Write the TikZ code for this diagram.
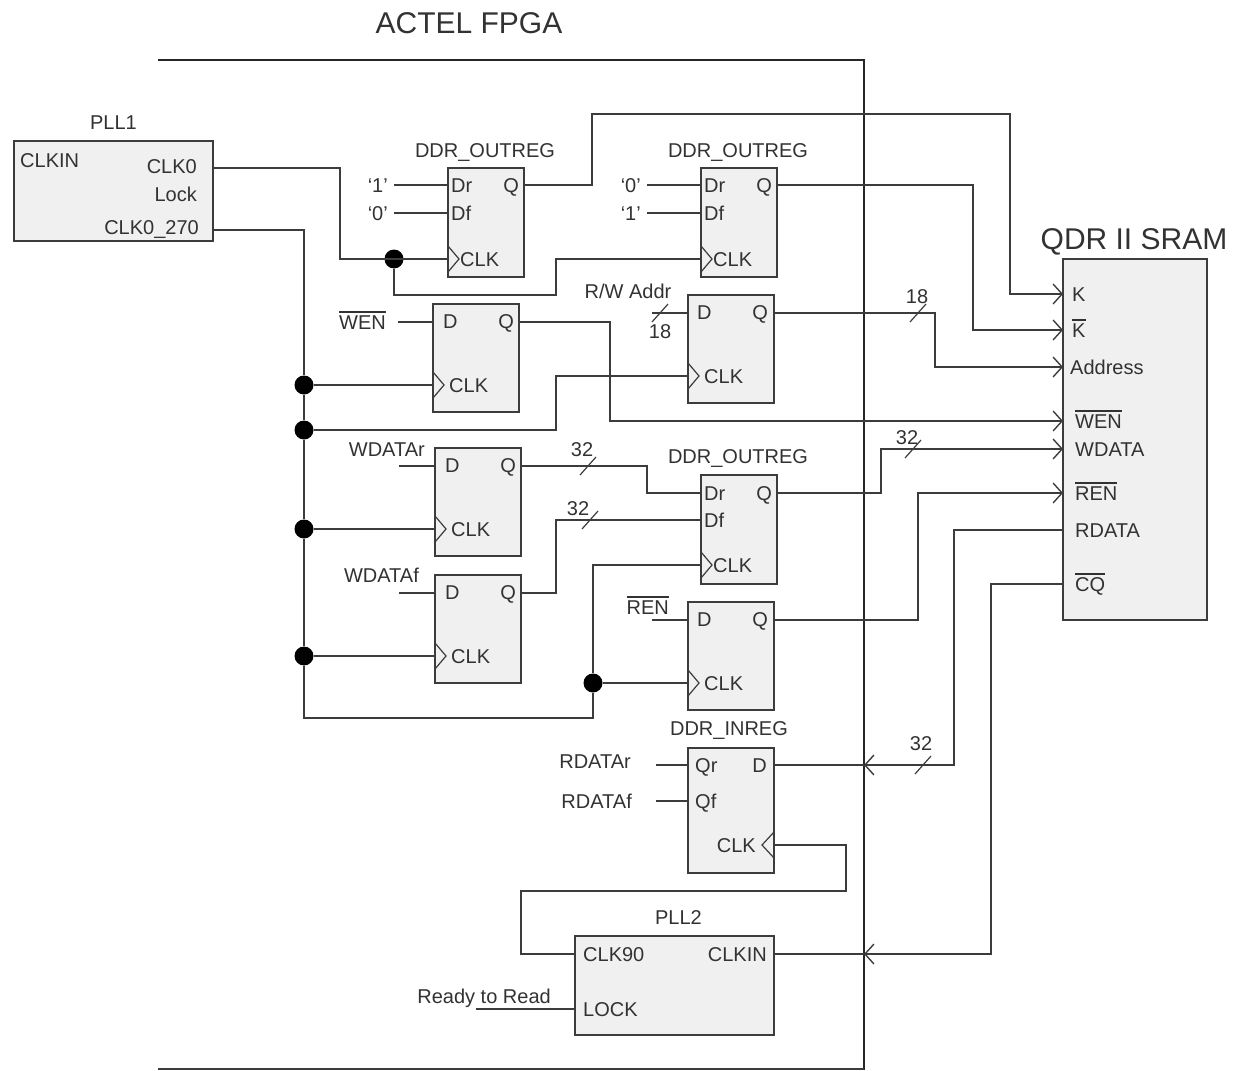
\documentclass[tikz,border=0pt]{standalone}
\usepackage{fontspec}
\setmainfont{Liberation Sans}
\usetikzlibrary{arrows.meta,positioning,calc}
\definecolor{wiregrey}{RGB}{60,60,60}
\definecolor{boxgrey}{RGB}{240,240,240}
\definecolor{textgrey}{RGB}{50,50,50}
\newcommand{\barred}[1]{\vbox{\hrule height 1.5pt\kern 2.5pt\hbox{#1}}}

\begin{document}
\begin{tikzpicture}[
    x=1pt, y=-1pt,
    font=\fontsize{20}{22}\selectfont, text=textgrey,
    regbox/.style={rectangle, draw=wiregrey, fill=boxgrey, line width=2pt,
        inner sep=0pt, outer sep=0pt, minimum width=86pt, minimum height=108pt},
    ddrbox/.style={regbox, minimum width=76pt, minimum height=109pt},
    pinleft/.style={anchor=west, inner sep=0pt, text height=14pt, text depth=0pt},
    pinright/.style={anchor=east, inner sep=0pt, text height=14pt, text depth=0pt},
    caption/.style={inner sep=0pt, text height=14pt, text depth=0pt},
    bigcaption/.style={inner sep=0pt, font=\fontsize{30}{32}\selectfont},
    wire/.style={draw=wiregrey, line width=1.7pt},
    sramarrow/.style={wire, -{Straight Barb[length=9pt,width=20pt,line width=1.4pt]}},
    junction/.style={circle, fill=black, inner sep=0pt, minimum size=19pt}
]
\useasboundingbox (0,0) rectangle (1238,1070);

% FPGA outline
\draw[line width=2.6pt, draw=black!85] (158,60) -- (864,60) -- (864,1070);
\draw[wire] (158,1069) -- (864,1069);
\node[bigcaption] (fpga) at (469,23) {ACTEL FPGA};

% blocks
\node[regbox, anchor=north west, minimum width=199pt, minimum height=100pt] (pll1) at (14,141) {};
\node[ddrbox, anchor=north west] (u1) at (448,168) {};
\node[ddrbox, right=177pt of u1] (u2) {};
\node[regbox, anchor=north west] (wenreg) at (433,304) {};
\node[regbox, anchor=north west] (addrreg) at (688,295) {};
\node[regbox, anchor=north west] (wdatar) at (435,448) {};
\node[regbox, below=19pt of wdatar] (wdataf) {};
\node[ddrbox, anchor=north west] (u3) at (701,475) {};
\node[regbox, anchor=north west] (renreg) at (688,602) {};
\node[regbox, anchor=north west, minimum height=125pt] (inreg) at (688,748) {};
\node[regbox, anchor=north west, minimum width=199pt, minimum height=99pt] (pll2) at (575,936) {};
\node[regbox, anchor=north west, minimum width=144pt, minimum height=361pt] (sram) at (1063,259) {};

% block captions
\node[caption, above=11pt of pll1] (pll1name) {PLL1};
\node[caption, above=10pt of u1, xshift=-1pt] (u1name) {DDR\_OUTREG};
\node[caption, above=10pt of u2, xshift=-1pt] (u2name) {DDR\_OUTREG};
\node[caption, above=11pt of u3, xshift=-1pt] (u3name) {DDR\_OUTREG};
\node[caption, above=12pt of inreg, xshift=-2pt] (inregname) {DDR\_INREG};
\node[caption, above=11pt of pll2, xshift=4pt] (pll2name) {PLL2};
\node[bigcaption, above=4pt of sram, xshift=-1pt] (sramname) {QDR II SRAM};

% pins
\node[pinleft] (pll1in) at (20,160) {CLKIN};
\node[pinright] (pll1clk) at (197,166) {CLK0};
\node[pinright] (pll1lock) at (197,194) {Lock};
\node[pinright] (pll1late) at (199,227) {CLK0\_270};
\node[pinleft] (u1dr) at (451,185) {Dr};
\node[pinleft] (u1df) at (451,213) {Df};
\node[pinright] (u1q) at (519,185) {Q};
\node[pinleft] (u1clk) at (460,259) {CLK};
\node[pinleft] (u2dr) at (704,185) {Dr};
\node[pinleft] (u2df) at (704,213) {Df};
\node[pinright] (u2q) at (772,185) {Q};
\node[pinleft] (u2clk) at (713,259) {CLK};
\node[pinleft] (wenregd) at (443,321) {D};
\node[pinright] (wenregq) at (514,321) {Q};
\node[pinleft] (wenregclk) at (449,385) {CLK};
\node[pinleft] (addrregd) at (697,312) {D};
\node[pinright] (addrregq) at (768,312) {Q};
\node[pinleft] (addrregclk) at (704,376) {CLK};
\node[pinleft] (wdatard) at (445,465) {D};
\node[pinright] (wdatarq) at (516,465) {Q};
\node[pinleft] (wdatarclk) at (451,529) {CLK};
\node[pinleft] (wdatafd) at (445,592) {D};
\node[pinright] (wdatafq) at (516,592) {Q};
\node[pinleft] (wdatafclk) at (451,656) {CLK};
\node[pinleft] (u3dr) at (704,493) {Dr};
\node[pinleft] (u3df) at (704,520) {Df};
\node[pinright] (u3q) at (772,493) {Q};
\node[pinleft] (u3clk) at (713,565) {CLK};
\node[pinleft] (renregd) at (697,619) {D};
\node[pinright] (renregq) at (768,619) {Q};
\node[pinleft] (renregclk) at (704,683) {CLK};
\node[pinleft] (inregqr) at (695,765) {Qr};
\node[pinleft] (inregqf) at (695,801) {Qf};
\node[pinright] (inregd) at (767,765) {D};
\node[pinright] (inregclk) at (756,845) {CLK};
\node[pinleft] (pll2out) at (583,954) {CLK90};
\node[pinleft] (pll2lock) at (583,1009) {LOCK};
\node[pinright] (pll2in) at (767,954) {CLKIN};
\node[pinleft] (sramk) at (1072,294) {K};
\node[pinleft] (sramkn) at (1072,330) {\barred{K}};
\node[pinleft] (sramaddr) at (1070,367) {Address};
\node[pinleft] (sramwen) at (1075,421) {\barred{WEN}};
\node[pinleft] (sramwdata) at (1075,449) {WDATA};
\node[pinleft] (sramren) at (1075,493) {\barred{REN}};
\node[pinleft] (sramrdata) at (1075,530) {RDATA};
\node[pinleft] (sramcq) at (1075,584) {\barred{CQ}};

% outside signal names
\node[pinright] (one1) at (388,185) {`1'};
\node[pinright] (zero1) at (388,213) {`0'};
\node[pinright] (zero2) at (641,185) {`0'};
\node[pinright] (one2) at (641,213) {`1'};
\node[pinright] (wenname) at (386,322) {\barred{WEN}};
\node[caption] (addrname) at (628,291) {R/W Addr};
\node[caption] (addrbits) at (660,331) {18};
\node[caption] (addrbitsb) at (917,296) {18};
\node[pinright] (wdatarname) at (425,449) {WDATAr};
\node[pinright] (wdatafname) at (419,575) {WDATAf};
\node[caption] (rbits) at (582,449) {32};
\node[caption] (fbits) at (578,508) {32};
\node[caption] (wbits) at (907,437) {32};
\node[pinright] (renname) at (669,607) {\barred{REN}};
\node[pinright] (rdatarname) at (631,761) {RDATAr};
\node[pinright] (rdatafname) at (632,801) {RDATAf};
\node[caption] (dbits) at (921,743) {32};
\node[pinright] (readyname) at (551,996) {Ready to Read};

% free ends
\coordinate (in1) at (394,185);
\coordinate (in2) at (394,213);
\coordinate (in3) at (647,185);
\coordinate (in4) at (647,213);
\coordinate (wenin) at (398,322);
\coordinate (addrin) at (652,313);
\coordinate (wdatarin) at (399,466);
\coordinate (wdatafin) at (399,593);
\coordinate (renin) at (652,620);
\coordinate (qrout) at (656,765);
\coordinate (qfout) at (656,801);
\coordinate (readyout) at (476,1009);

% junctions
\node[junction] (dota) at (394,259) {};
\node[junction] (dotb) at (304,385) {};
\node[junction] (dotc) at (304,430) {};
\node[junction] (dotd) at (304,529) {};
\node[junction] (dote) at (304,656) {};
\node[junction] (dotf) at (593,683) {};
% edge of the FPGA, where the read lines cross it
\coordinate (edged) at (864,765);
\coordinate (edgec) at (864,954);

% plain inputs
\draw[wire] (in1) -- (u1dr -| u1.west);
\draw[wire] (in2) -- (u1df -| u1.west);
\draw[wire] (in3) -- (u2dr -| u2.west);
\draw[wire] (in4) -- (u2df -| u2.west);
\draw[wire] (wenin) -- (wenin -| wenreg.west);
\draw[wire] (addrin) -- (addrin -| addrreg.west);
\draw[wire] (wdatarin) -- (wdatarin -| wdatar.west);
\draw[wire] (wdatafin) -- (wdatafin -| wdataf.west);
\draw[wire] (renin) -- (renin -| renreg.west);
\draw[wire] (qrout) -- (qrout -| inreg.west);
\draw[wire] (qfout) -- (qfout -| inreg.west);
\draw[wire] (readyout) -- (readyout -| pll2.west);

% clocks
\draw[wire] (pll1.east |- 0,168) -| (340,259) -- (u1clk -| u1.west);
\draw[wire] (dota) |- (556,295) |- (u2clk -| u2.west);
\draw[wire] (pll1.east |- 0,230) -| (dotb) -- (dotc) -- (dotd) -- (dote) |- (dotf.center |- 0,718) -- (dotf) |- (u3clk -| u3.west);
\draw[wire] (dotb) -- (wenregclk -| wenreg.west);
\draw[wire] (dotc) -| (556,376) -- (addrregclk -| addrreg.west);
\draw[wire] (dotd) -- (dotd -| wdatar.west);
\draw[wire] (dote) -- (wdatafclk -| wdataf.west);
\draw[wire] (dotf) -- (renregclk -| renreg.west);
\foreach \b in {u1,u2,wenreg,addrreg,wdatar,wdataf,u3,renreg}
    \draw[wire, line width=1.2pt] ($(\b clk -| \b.west)+(0,-13)$) -- ++(11,13) -- ++(-11,13);

% outputs to the SRAM
\draw[sramarrow] (u1q -| u1.east) -| (592,114) -| (1010,294) -- (sramk -| sram.west);
\draw[sramarrow] (u2q -| u2.east) -| (973,330) -- (sramkn -| sram.west);
\draw[sramarrow] (addrin -| addrreg.east) -| (935,367) -- (sramaddr -| sram.west);
\draw[sramarrow] (wenin -| wenreg.east) -| (610,421) -- (sramwen -| sram.west);
\draw[wire] (wdatarin -| wdatar.east) -| (647,493) -- (u3dr -| u3.west);
\draw[wire] (wdatafin -| wdataf.east) -| (556,520) -- (u3df -| u3.west);
\draw[sramarrow] (u3dr -| u3.east) -| (881,449) -- (sramwdata -| sram.west);
\draw[sramarrow] (renin -| renreg.east) -| (918,493) -- (sramren -| sram.west);

% back from the SRAM
\draw[sramarrow] (sramrdata -| sram.west) -| (954,765) -- (edged);
\draw[wire] (edged) -- (qrout -| inreg.east);
\draw[sramarrow] (sramcq -| sram.west) -| (991,954) -- (edgec);
\draw[wire] (edgec) -- (edgec -| pll2.east);
\draw[wire] (inregclk -| inreg.east) -| (846,891) -| (521,954) -- (pll2out -| pll2.west);
\draw[wire, line width=1.2pt] ($(inreg.east |- inregclk)+(0,-13)$) -- ++(-12,13) -- ++(12,13);

% bus marks
\foreach \px/\py in {660/313, 918/313, 588/466, 590/520, 913/449, 923/765}
    \draw[wire, line width=1.2pt] ({\px-8},{\py+9}) -- ({\px+8},{\py-9});
\end{tikzpicture}
\end{document}
